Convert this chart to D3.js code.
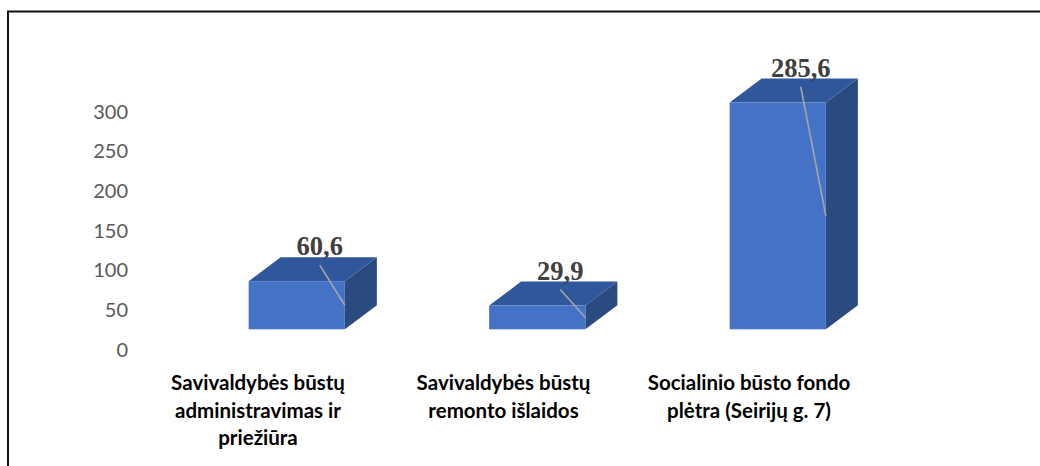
<!DOCTYPE html>
<html>
<head>
<meta charset="utf-8">
<script src="https://cdn.jsdelivr.net/npm/d3@7"></script>
<style>
  html, body { margin: 0; padding: 0; background: #fff; }
  svg { display: block; }
</style>
</head>
<body>
<svg id="chart" width="1040" height="466"></svg>
<script>
// Housing expenditure by purpose (thousand EUR)
const categories = [
  ["Savivaldybės būstų", "administravimas ir", "priežiūra"],
  ["Savivaldybės būstų", "remonto išlaidos"],
  ["Socialinio būsto fondo", "plėtra (Seirijų g. 7)"]
];
const values = [60.6, 29.9, 285.6];
const yTicks = [0, 50, 100, 150, 200, 250, 300];

const svg = d3.select("#chart");
const W = 1040, H = 466;

// chart frame (left and top edges)
svg.append("path")
  .attr("d", `M8,${H} L8,11.5 L${W},11.5`)
  .attr("fill", "none")
  .attr("stroke", "#111")
  .attr("stroke-width", 2);

const keys = categories.map((c, i) => i);

// front faces of the columns
const x = d3.scaleBand()
  .domain(keys)
  .range([176.5, 898])
  .paddingInner(0.6)
  .paddingOuter(0.3);

const y = d3.scaleLinear().domain([0, 300]).range([329.3, 329.3 - 0.794 * 300]);

// value axis drawn on the back wall, offset below the front plane
const yAxisScale = d3.scaleLinear().domain([0, 300]).range([349, 110.8]);

// category labels along the front edge of the floor
const xLabel = d3.scalePoint().domain(keys).range([258, 749]);

// depth of the 3-D columns
const depthX = 32, depthY = -24;

const fmt = d3.formatLocale({ decimal: ",", thousands: " ", grouping: [3], currency: ["", ""] }).format(".1f");

// value axis
const yAxis = svg.append("g")
  .attr("transform", "translate(128,0)")
  .call(d3.axisLeft(yAxisScale).tickValues(yTicks).tickSize(0).tickPadding(0));
yAxis.select(".domain").remove();
yAxis.selectAll("text")
  .attr("fill", "#595959")
  .attr("font-family", "Lato, 'Open Sans', sans-serif")
  .attr("font-size", 20)
  .attr("dy", "0.36em");

// columns
const bars = svg.append("g").selectAll("g")
  .data(values)
  .join("g");

bars.each(function(v, i) {
  const g = d3.select(this);
  const x0 = x(i), x1 = x(i) + x.bandwidth();
  const yTop = y(v), yBot = y(0);
  // right side face
  g.append("path")
    .attr("d", `M${x1},${yBot} L${x1 + depthX},${yBot + depthY} L${x1 + depthX},${yTop + depthY} L${x1},${yTop} Z`)
    .attr("fill", "#2A4A80");
  // top face
  g.append("path")
    .attr("d", `M${x0},${yTop} L${x0 + depthX},${yTop + depthY} L${x1 + depthX},${yTop + depthY} L${x1},${yTop} Z`)
    .attr("fill", "#30579B");
  // front face
  g.append("rect")
    .attr("x", x0)
    .attr("y", yTop)
    .attr("width", x.bandwidth())
    .attr("height", yBot - yTop)
    .attr("fill", "#4472C4");
});

// data labels with leader lines to the column edge
const labelX = i => x(i) + x.bandwidth() / 2 + 23;
const labelY = v => y(v) - 26;

svg.append("g").selectAll("line")
  .data(values)
  .join("line")
  .attr("x1", (v, i) => labelX(i))
  .attr("y1", v => labelY(v) + 10)
  .attr("x2", (v, i) => x(i) + x.bandwidth())
  .attr("y2", v => (y(v) + y(0)) / 2)
  .attr("stroke", "#A6A6A6")
  .attr("stroke-width", 1.6);

svg.append("g").selectAll("text")
  .data(values)
  .join("text")
  .attr("x", (v, i) => labelX(i))
  .attr("y", v => labelY(v))
  .attr("text-anchor", "middle")
  .attr("font-family", "'Liberation Serif', 'Times New Roman', serif")
  .attr("font-weight", "bold")
  .attr("font-size", 26.5)
  .attr("fill", "#404040")
  .text(v => fmt(v));

// category labels
const catG = svg.append("g").selectAll("text")
  .data(categories)
  .join("text")
  .attr("text-anchor", "middle")
  .attr("font-family", "Lato, 'Open Sans', sans-serif")
  .attr("font-weight", "bold")
  .attr("font-size", 20.5)
  .attr("fill", "#000");

catG.selectAll("tspan")
  .data((d, i) => d.map(line => ({ line, i })))
  .join("tspan")
  .attr("x", d => xLabel(d.i))
  .attr("y", (d, j) => 390 + j * 27.5)
  .text(d => d.line);
</script>
</body>
</html>
